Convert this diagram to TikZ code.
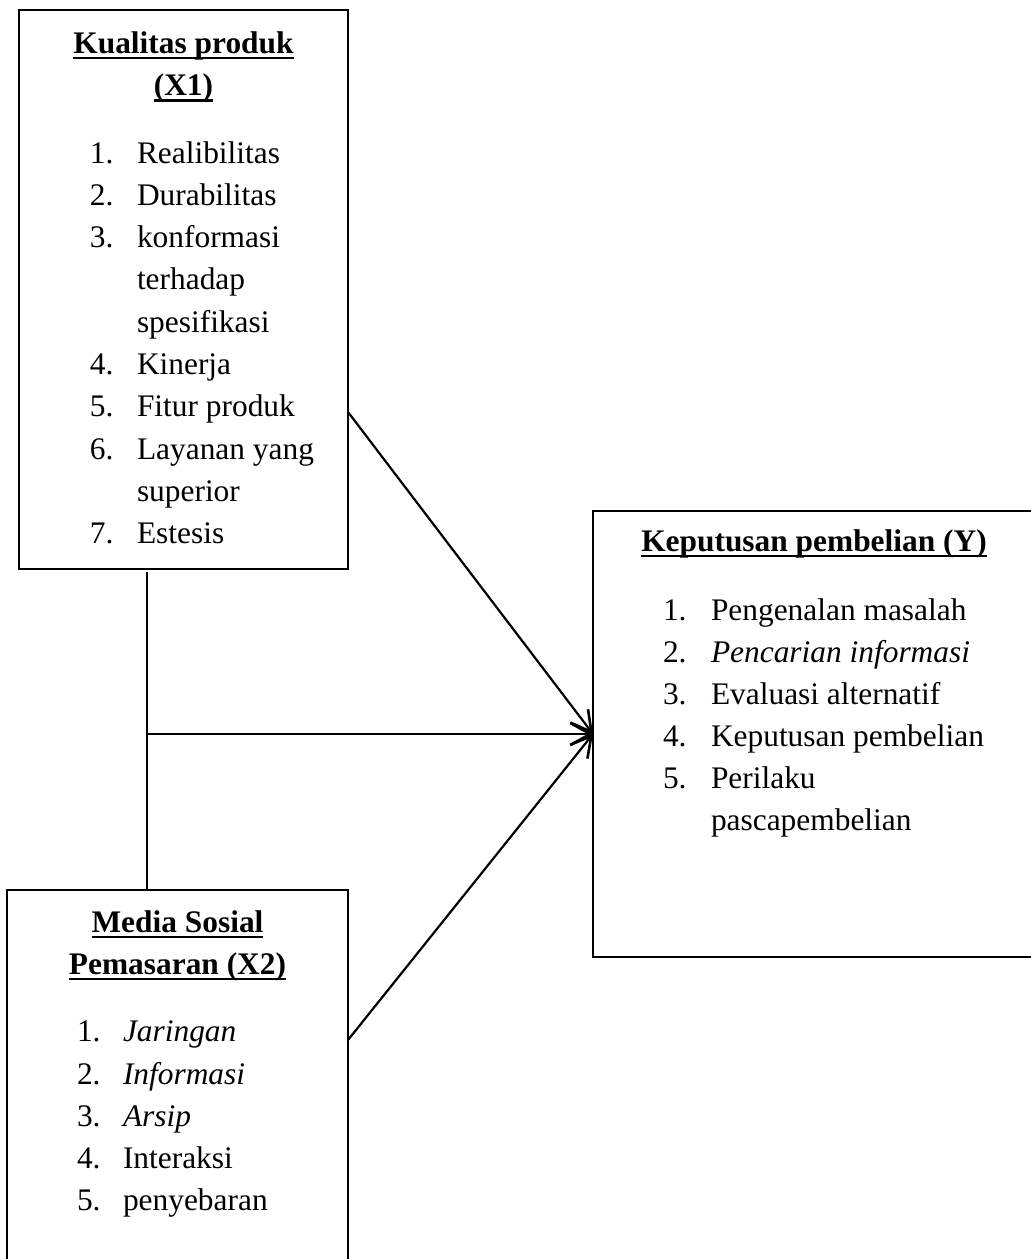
\documentclass[tikz,border=0pt]{standalone}
\usepackage{fontspec}
\setmainfont{Liberation Serif}
\usetikzlibrary{arrows.meta}
% bold heading with a heavy underline
\newcommand\headul[1]{\setbox0\hbox{\bfseries #1}\rlap{\rule[-3.2pt]{\wd0}{1.3pt}}\box0}
\begin{document}
\begin{tikzpicture}[x=0.5pt,y=-0.5pt,
  every node/.style={font=\fontsize{15.7}{21}\selectfont, inner sep=0pt, outer sep=0pt},
  box/.style={draw, line width=1pt, rectangle},
  head/.style={anchor=base},
  lbl/.style={anchor=base west},
  link/.style={line width=1.1pt},
  arr/.style={link, -{Straight Barb[length=10pt,width=11pt,line width=1.3pt]}}]
\clip (0,0) rectangle (1031,1259);

% boxes
\node[box, minimum width=164.5pt, minimum height=279.5pt] (x1) at (183.5,289.5) {};
\node[box, minimum width=170.5pt, minimum height=205pt] (x2) at (177.5,1095) {};
\node[box, minimum width=223.5pt, minimum height=223pt] (yb) at (816.5,734) {};

% Kualitas produk (X1)
\node[head] (x1h1) at (183.5,53) {\headul{Kualitas produk}};
\node[head] (x1h2) at (183.5,95.3) {\headul{(X1)}};
\node[lbl] (x1n1) at (90,163)   {1.};   \node[lbl] (x1t1) at (137,163)   {Realibilitas};
\node[lbl] (x1n2) at (90,205.3) {2.};   \node[lbl] (x1t2) at (137,205.3) {Durabilitas};
\node[lbl] (x1n3) at (90,247.6) {3.};   \node[lbl] (x1t3) at (137,247.6) {konformasi};
                                        \node[lbl] (x1t3b) at (137,289.9) {terhadap};
                                        \node[lbl] (x1t3c) at (137,332.2) {spesifikasi};
\node[lbl] (x1n4) at (90,374.5) {4.};   \node[lbl] (x1t4) at (137,374.5) {Kinerja};
\node[lbl] (x1n5) at (90,416.8) {5.};   \node[lbl] (x1t5) at (137,416.8) {Fitur produk};
\node[lbl] (x1n6) at (90,459.1) {6.};   \node[lbl] (x1t6) at (137,459.1) {Layanan yang};
                                        \node[lbl] (x1t6b) at (137,501.4) {superior};
\node[lbl] (x1n7) at (90,543.7) {7.};   \node[lbl] (x1t7) at (137,543.7) {Estesis};

% Media Sosial Pemasaran (X2)
\node[head] (x2h1) at (177.5,932) {\headul{Media Sosial}};
\node[head] (x2h2) at (177.5,974) {\headul{Pemasaran (X2)}};
\node[lbl] (x2n1) at (77,1041.7) {1.};  \node[lbl] (x2t1) at (123,1041.7) {\itshape Jaringan};
\node[lbl] (x2n2) at (77,1084)   {2.};  \node[lbl] (x2t2) at (123,1084)   {\itshape Informasi};
\node[lbl] (x2n3) at (77,1126.3) {3.};  \node[lbl] (x2t3) at (123,1126.3) {\itshape Arsip};
\node[lbl] (x2n4) at (77,1168.6) {4.};  \node[lbl] (x2t4) at (123,1168.6) {Interaksi};
\node[lbl] (x2n5) at (77,1210.9) {5.};  \node[lbl] (x2t5) at (123,1210.9) {penyebaran};

% Keputusan pembelian (Y)
\node[head] (ybh) at (814,551) {\headul{Keputusan pembelian (Y)}};
\node[lbl] (ybn1) at (663,620) {1.};    \node[lbl] (ybt1) at (711,620) {Pengenalan masalah};
\node[lbl] (ybn2) at (663,662) {2.};    \node[lbl] (ybt2) at (711,662) {\itshape Pencarian informasi};
\node[lbl] (ybn3) at (663,704) {3.};    \node[lbl] (ybt3) at (711,704) {Evaluasi alternatif};
\node[lbl] (ybn4) at (663,746) {4.};    \node[lbl] (ybt4) at (711,746) {Keputusan pembelian};
\node[lbl] (ybn5) at (663,788) {5.};    \node[lbl] (ybt5) at (711,788) {Perilaku};
                                        \node[lbl] (ybt5b) at (711,830) {pascapembelian};

% connectors
\coordinate (s1) at (348,412);
\coordinate (s2) at (348,1040);
\coordinate (jn) at (147,734);
\draw[link] (x1.south -| jn) ++(0,3) -- (x2.north -| jn);
\draw[arr] (s1) -- (yb.west);
\draw[arr] (jn) -- (yb.west);
\draw[arr] (s2) -- (yb.west);
\end{tikzpicture}
\end{document}
